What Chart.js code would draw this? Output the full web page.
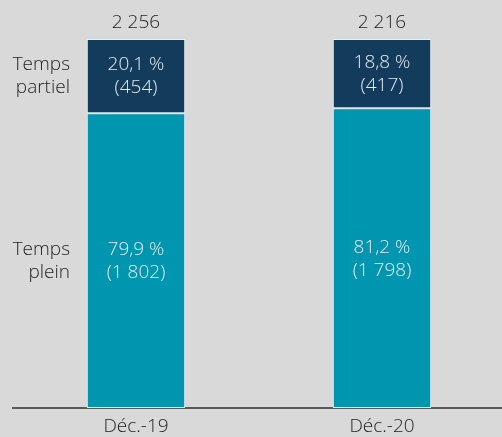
<!DOCTYPE html>
<html><head><meta charset="utf-8">
<script src="https://cdn.jsdelivr.net/npm/chart.js@4/dist/chart.umd.min.js"></script>
<style>
html,body{margin:0;padding:0;background:#d9d9d9;overflow:hidden;width:502px;height:437px;}
#wrap{width:505px;height:437px;position:relative;}
</style></head>
<body><div id="wrap"><canvas id="c" width="505" height="437"></canvas></div>
<script>
const categories = ['Déc.-19', 'Déc.-20'];
const seriesNames = [['Temps', 'plein'], ['Temps', 'partiel']];
const pleinPct = [79.9, 81.2];
const partielPct = [20.1, 18.8];
const pleinCount = [1802, 1798];
const partielCount = [454, 417];
const totals = [2256, 2216];

const FONT = '"Open Sans", sans-serif';
const fmtNum = n => String(n).replace(/\B(?=(\d{3})+(?!\d))/g, ' ');
const fmtPct = p => p.toFixed(1).replace('.', ',') + ' %';

const labelPlugin = {
  id: 'labels',
  afterDatasetsDraw(chart) {
    const ctx = chart.ctx;
    ctx.save();
    ctx.textAlign = 'center';
    ctx.textBaseline = 'middle';
    ctx.font = '300 19px ' + FONT;
    const counts = [pleinCount, partielCount];
    const pcts = [pleinPct, partielPct];
    chart.data.datasets.forEach((ds, di) => {
      const meta = chart.getDatasetMeta(di);
      meta.data.forEach((el, i) => {
        const cy = (el.y + el.base) / 2;
        ctx.fillStyle = '#e4ebf1';
        ctx.textAlign = 'center';
        ctx.fillText(fmtPct(pcts[di][i]), el.x, cy - 11);
        ctx.fillText('(' + fmtNum(counts[di][i]) + ')', el.x, cy + 12);
        if (i === 0) {
          ctx.fillStyle = '#1f1f1f';
          ctx.textAlign = 'right';
          ctx.fillText(seriesNames[di][0], 70, cy - 11);
          ctx.fillText(seriesNames[di][1], 70, cy + 12);
        }
      });
    });
    const top = chart.getDatasetMeta(1);
    ctx.fillStyle = '#1f1f1f';
    ctx.textAlign = 'center';
    top.data.forEach((el, i) => {
      ctx.fillText(fmtNum(totals[i]), el.x, el.y - 16);
    });
    ctx.restore();
  }
};

new Chart(document.getElementById('c'), {
  type: 'bar',
  data: {
    labels: categories,
    datasets: [
      { label: 'Temps plein', data: pleinPct, backgroundColor: '#0096b0', borderColor: '#e8eef2', borderWidth: 1, borderSkipped: false },
      { label: 'Temps partiel', data: partielPct, backgroundColor: '#133b5c', borderColor: '#e8eef2', borderWidth: 1, borderSkipped: false }
    ]
  },
  options: {
    responsive: false,
    animation: false,
    events: [],
    layout: { padding: { top: 39, left: 13, right: 0, bottom: 0 } },
    plugins: { legend: { display: false }, tooltip: { enabled: false } },
    datasets: { bar: { categoryPercentage: 1, barPercentage: 0.4 } },
    scales: {
      x: {
        stacked: true,
        grid: { display: false, drawTicks: false },
        border: { display: true, color: '#595959', width: 2 },
        ticks: { color: '#1f1f1f', font: { family: FONT, size: 19, weight: 300 }, padding: 7 },
        afterFit: s => { s.height = 29; }
      },
      y: {
        stacked: true, display: false, min: 0, max: 100
      }
    }
  },
  plugins: [labelPlugin]
});
</script>
</body></html>
